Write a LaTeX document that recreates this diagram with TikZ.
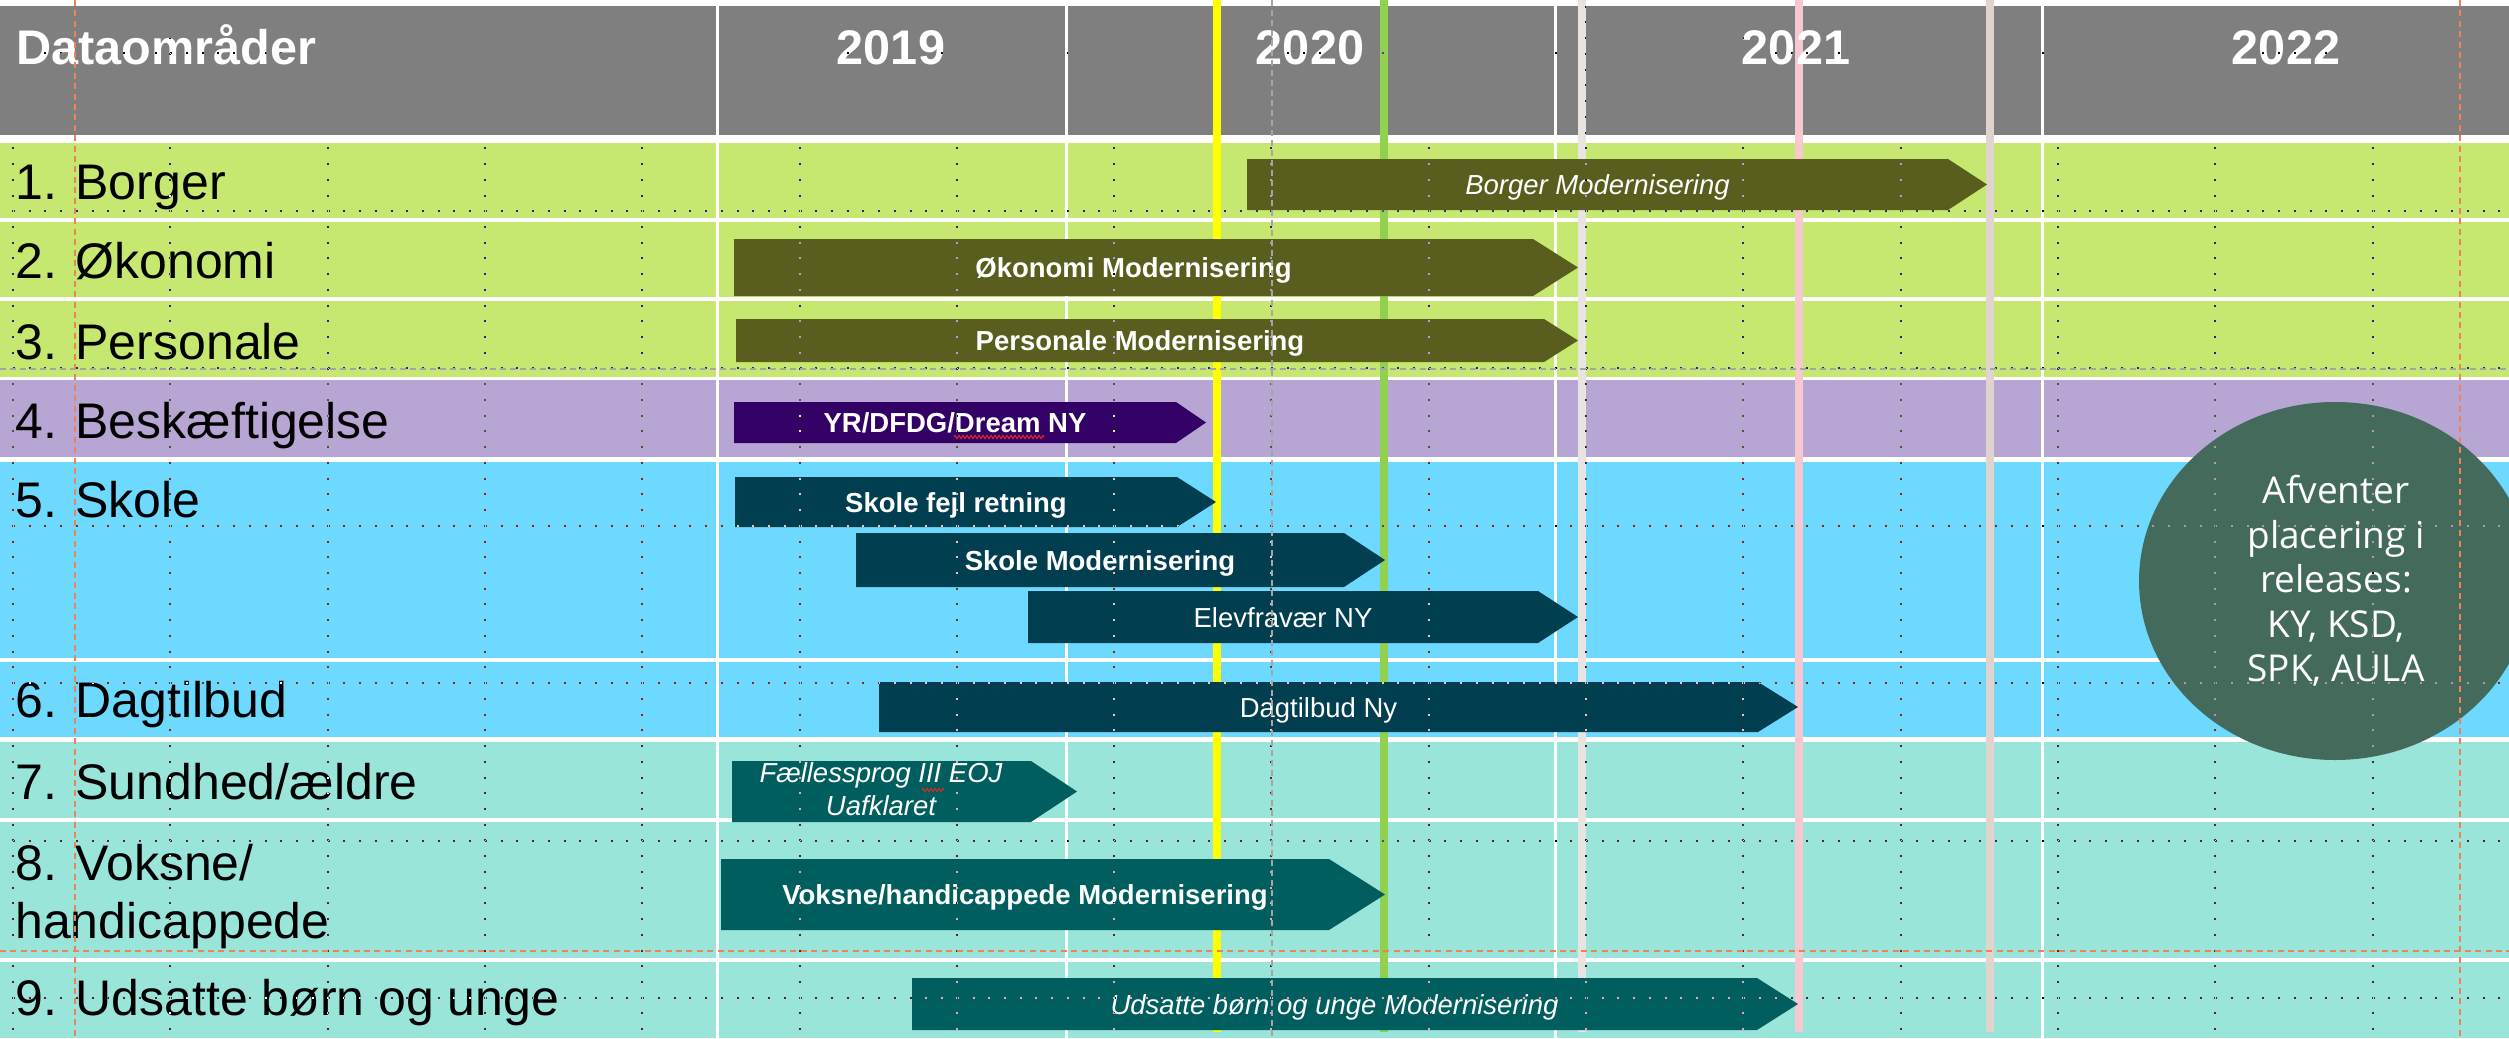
\documentclass[tikz,border=0pt]{standalone}
\usepackage{fontspec}
\setmainfont{Liberation Sans}
\newfontfamily\ellfont{Open Sans}
\usetikzlibrary{shapes.geometric,decorations.pathmorphing}
\definecolor{hdr}{RGB}{127,127,127}
\definecolor{bgreen}{RGB}{198,231,112}
\definecolor{bpurple}{RGB}{183,166,212}
\definecolor{bblue}{RGB}{109,217,255}
\definecolor{bteal}{RGB}{153,229,218}
\definecolor{aolive}{RGB}{89,94,30}
\definecolor{apurple}{RGB}{51,0,102}
\definecolor{adteal}{RGB}{0,62,80}
\definecolor{ateal}{RGB}{0,94,94}
\definecolor{ellc}{RGB}{67,106,90}
\definecolor{lyellow}{RGB}{255,255,0}
\definecolor{lgreen}{RGB}{146,208,80}
\definecolor{lgray}{RGB}{232,228,226}
\definecolor{lpink}{RGB}{248,200,208}
\definecolor{lbeige}{RGB}{225,212,206}
\definecolor{guideor}{RGB}{240,130,90}
\definecolor{guidegr}{RGB}{165,165,165}
\definecolor{squig}{RGB}{220,40,40}
\newcommand{\tlbar}[9]{%
  \fill[#7] (#2,#5) -- (#3,#5) -- (#4,{(#5+#6)/2}) -- (#3,#6) -- (#2,#6) -- cycle;
  \node[bartext,#8] (#1) at ({(#2+#3)/2},{(#5+#6)/2+10}) {#9};}
\begin{document}
\begin{tikzpicture}[x=0.5pt,y=-0.5pt,
  lbl/.style={anchor=base west,inner sep=0,font=\fontsize{25}{30}\selectfont},
  hdrtxt/.style={inner sep=0,text=white,font=\fontsize{24.3}{29}\selectfont\bfseries},
  bartext/.style={anchor=base,inner sep=0,text=white,font=\fontsize{13.75}{16.5}\selectfont},
  bbold/.style={font=\fontsize{13.75}{16.5}\selectfont\bfseries},
  bital/.style={font=\fontsize{13.75}{16.5}\selectfont\itshape},
  sepline/.style={white,line width=1.5pt},
  vline/.style={line width=4.3pt},
  griddot/.style={white,line width=1pt,dash pattern=on 1pt off 6.865pt},
  guideO/.style={guideor,line width=1pt,dash pattern=on 3pt off 2.2pt},
  guideG/.style={guidegr,line width=1pt,dash pattern=on 3pt off 2pt},
  squiggle/.style={squig,line width=0.5pt,decorate,decoration={zigzag,segment length=2pt,amplitude=0.8pt}}]
\useasboundingbox (0,0) rectangle (2509,1038);
\clip (0,0) rectangle (2509,1038);
\fill[white] (0,0) rectangle (2509,1038);
% header and bands
\fill[hdr] (0,6) rectangle (2509,135);
\fill[bgreen] (0,143) rectangle (2509,377);
\fill[bpurple] (0,380) rectangle (2509,457);
\fill[bblue] (0,462) rectangle (2509,737);
\fill[bteal] (0,742) rectangle (2509,1038);
\foreach \yy in {219.5,298.5,660,820,960} \draw[white,line width=2pt] (0,\yy) -- (2509,\yy);
\foreach \xx in {717,1066,1555,2042} \draw[sepline] (\xx,6) -- (\xx,1038);
% milestone lines
\draw[vline,lyellow] (1217,0) -- (1217,1032);
\draw[vline,lgreen] (1384,0) -- (1384,1032);
\draw[vline,lgray] (1582,0) -- (1582,1032);
\draw[vline,lpink] (1799,0) -- (1799,1032);
\draw[vline,lbeige] (1990,0) -- (1990,1032);
% header text
\node[hdrtxt,anchor=base west] (hd) at (16,65) {Dataområder};
\node[hdrtxt,anchor=base] (y19) at (891,65) {2019};
\node[hdrtxt,anchor=base] (y20) at (1310,65) {2020};
\node[hdrtxt,anchor=base] (y21) at (1796,65) {2021};
\node[hdrtxt,anchor=base] (y22) at (2286,65) {2022};
% row labels
\node[lbl] (l1) at (15,199) {1. Borger};
\node[lbl] (l2) at (15,278) {2. Økonomi};
\node[lbl] (l3) at (15,359) {3. Personale};
\node[lbl] (l4) at (15,438) {4. Beskæftigelse};
\node[lbl] (l5) at (15,517) {5. Skole};
\node[lbl] (l6) at (15,717) {6. Dagtilbud};
\node[lbl] (l7) at (15,799) {7. Sundhed/ældre};
\node[lbl] (l8a) at (15,880) {8. Voksne/};
\node[lbl] (l8b) at (15,938) {handicappede};
\node[lbl] (l9) at (15,1015) {9. Udsatte børn og unge};
% bars
\tlbar{bBorger}{1247}{1948}{1987}{159}{210}{aolive}{bital}{Borger Modernisering}
\tlbar{bOko}{734}{1533}{1578}{239}{296}{aolive}{bbold}{Økonomi Modernisering}
\tlbar{bPers}{736}{1544}{1578}{319}{362}{aolive}{bbold}{Personale Modernisering}
\tlbar{bYR}{734}{1176}{1206}{402}{443}{apurple}{bbold}{YR/DFDG/Dream NY}
\tlbar{bSkF}{735}{1177}{1216}{477}{527}{adteal}{bbold}{Skole fejl retning}
\tlbar{bSkM}{856}{1344}{1385}{533}{587}{adteal}{bbold}{Skole Modernisering}
\tlbar{bElev}{1028}{1538}{1578}{591}{643}{adteal}{}{Elevfravær NY}
\tlbar{bDag}{879}{1758}{1798}{682}{732}{adteal}{}{Dagtilbud Ny}
\fill[ateal] (732,761) -- (1031,761) -- (1077,791.5) -- (1031,822) -- (732,822) -- cycle;
\node[bartext,bital] (bFa) at (881,782) {Fællessprog III EOJ};
\node[bartext,bital] (bFb) at (881,815) {Uafklaret};
\tlbar{bVok}{721}{1329}{1385}{859}{930}{ateal}{bbold}{Voksne/handicappede Modernisering}
\tlbar{bUds}{912}{1757}{1798}{978}{1030}{ateal}{bital}{Udsatte børn og unge Modernisering}
% spell-check squiggles
\draw[squiggle] (954,437) -- (1044,437);
\draw[squiggle] (922,790) -- (944,790);
% ellipse
\node[ellipse,fill=ellc,minimum width=196pt,minimum height=179pt,inner sep=0] (ell) at (2335,581) {};
\node[text=white,align=center,inner sep=0,font=\ellfont\fontsize{18.5}{22.2}\selectfont] (elltxt) at (2336,581)
  {Afventer\\placering i\\releases:\\KY, KSD,\\SPK, AULA};
% grid (inverted dots)
\begin{scope}[blend mode=difference]
\foreach \i in {0,...,15} \draw[griddot] ({13+157.3*\i},5.75) -- ({13+157.3*\i},1038);
\foreach \j in {0,...,6} \draw[griddot] (-2.73,{53+157.5*\j}) -- (2509,{53+157.5*\j});
\end{scope}
% guides
\draw[guideO] (75,0) -- (75,1038);
\draw[guideO] (2460,0) -- (2460,1038);
\draw[guideO] (0,951) -- (2509,951);
\draw[guideG] (1272,0) -- (1272,1038);
\draw[guideG] (0,369) -- (2509,369);
\end{tikzpicture}
\end{document}
